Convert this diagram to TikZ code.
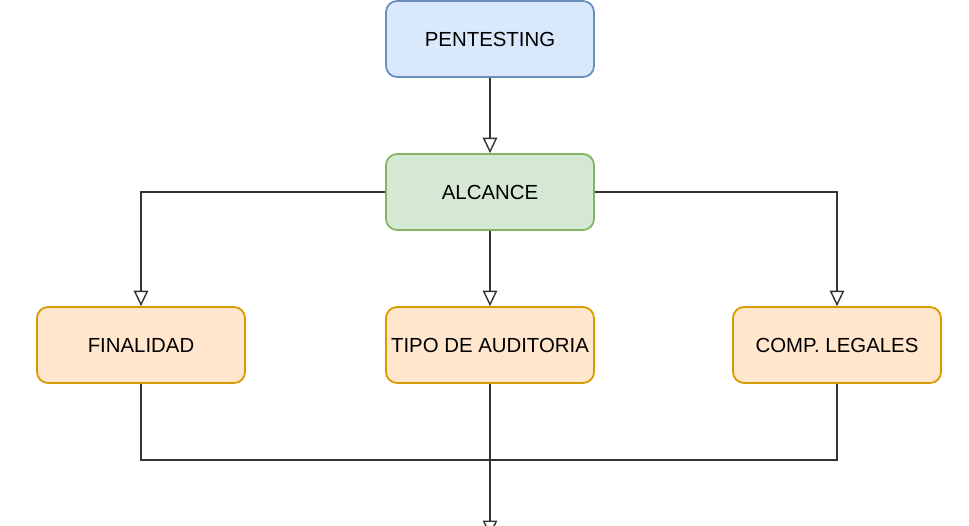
\documentclass[tikz,border=0pt]{standalone}
\usepackage{fontspec}
\setmainfont{Liberation Sans}
\usetikzlibrary{arrows.meta}
\definecolor{blueFill}{HTML}{DAE8FC}
\definecolor{blueLine}{HTML}{6C8EBF}
\definecolor{greenFill}{HTML}{D5E8D4}
\definecolor{greenLine}{HTML}{82B366}
\definecolor{orangeFill}{HTML}{FFE6CC}
\definecolor{orangeLine}{HTML}{D79B00}
\definecolor{linkGray}{HTML}{333333}
\begin{document}
\begin{tikzpicture}[x=0.02cm,y=-0.02cm,
    box/.style={draw,line width=1pt,rounded corners=0.22cm,minimum width=4.16cm,
      minimum height=1.52cm,inner sep=0pt,font=\fontsize{11.6}{14}\selectfont},
    link/.style={draw=linkGray,line width=0.8pt,-{Triangle[open,length=0.31cm,width=0.29cm]}}]
    \clip (0,0) rectangle (969,525);
    \node[box,fill=blueFill,draw=blueLine] (pent) at (490,39) {PENTESTING};
    \node[box,fill=greenFill,draw=greenLine] (alc) at (490,192) {ALCANCE};
    \node[box,fill=orangeFill,draw=orangeLine] (fin) at (141,345) {FINALIDAD};
    \node[box,fill=orangeFill,draw=orangeLine] (tipo) at (490,345) {TIPO DE AUDITORIA};
    \node[box,fill=orangeFill,draw=orangeLine] (comp) at (837,345) {COMP. LEGALES};
    \coordinate (join) at (490,460);
    \coordinate (out) at (490,536);
    \draw[link] (pent) -- (alc);
    \draw[link] (alc.west) -| (fin.north);
    \draw[link] (alc) -- (tipo);
    \draw[link] (alc.east) -| (comp.north);
    \draw[draw=linkGray,line width=0.8pt] (fin.south) |- (join) -| (comp.south);
    \draw[link] (tipo.south) -- (out);
\end{tikzpicture}
\end{document}
